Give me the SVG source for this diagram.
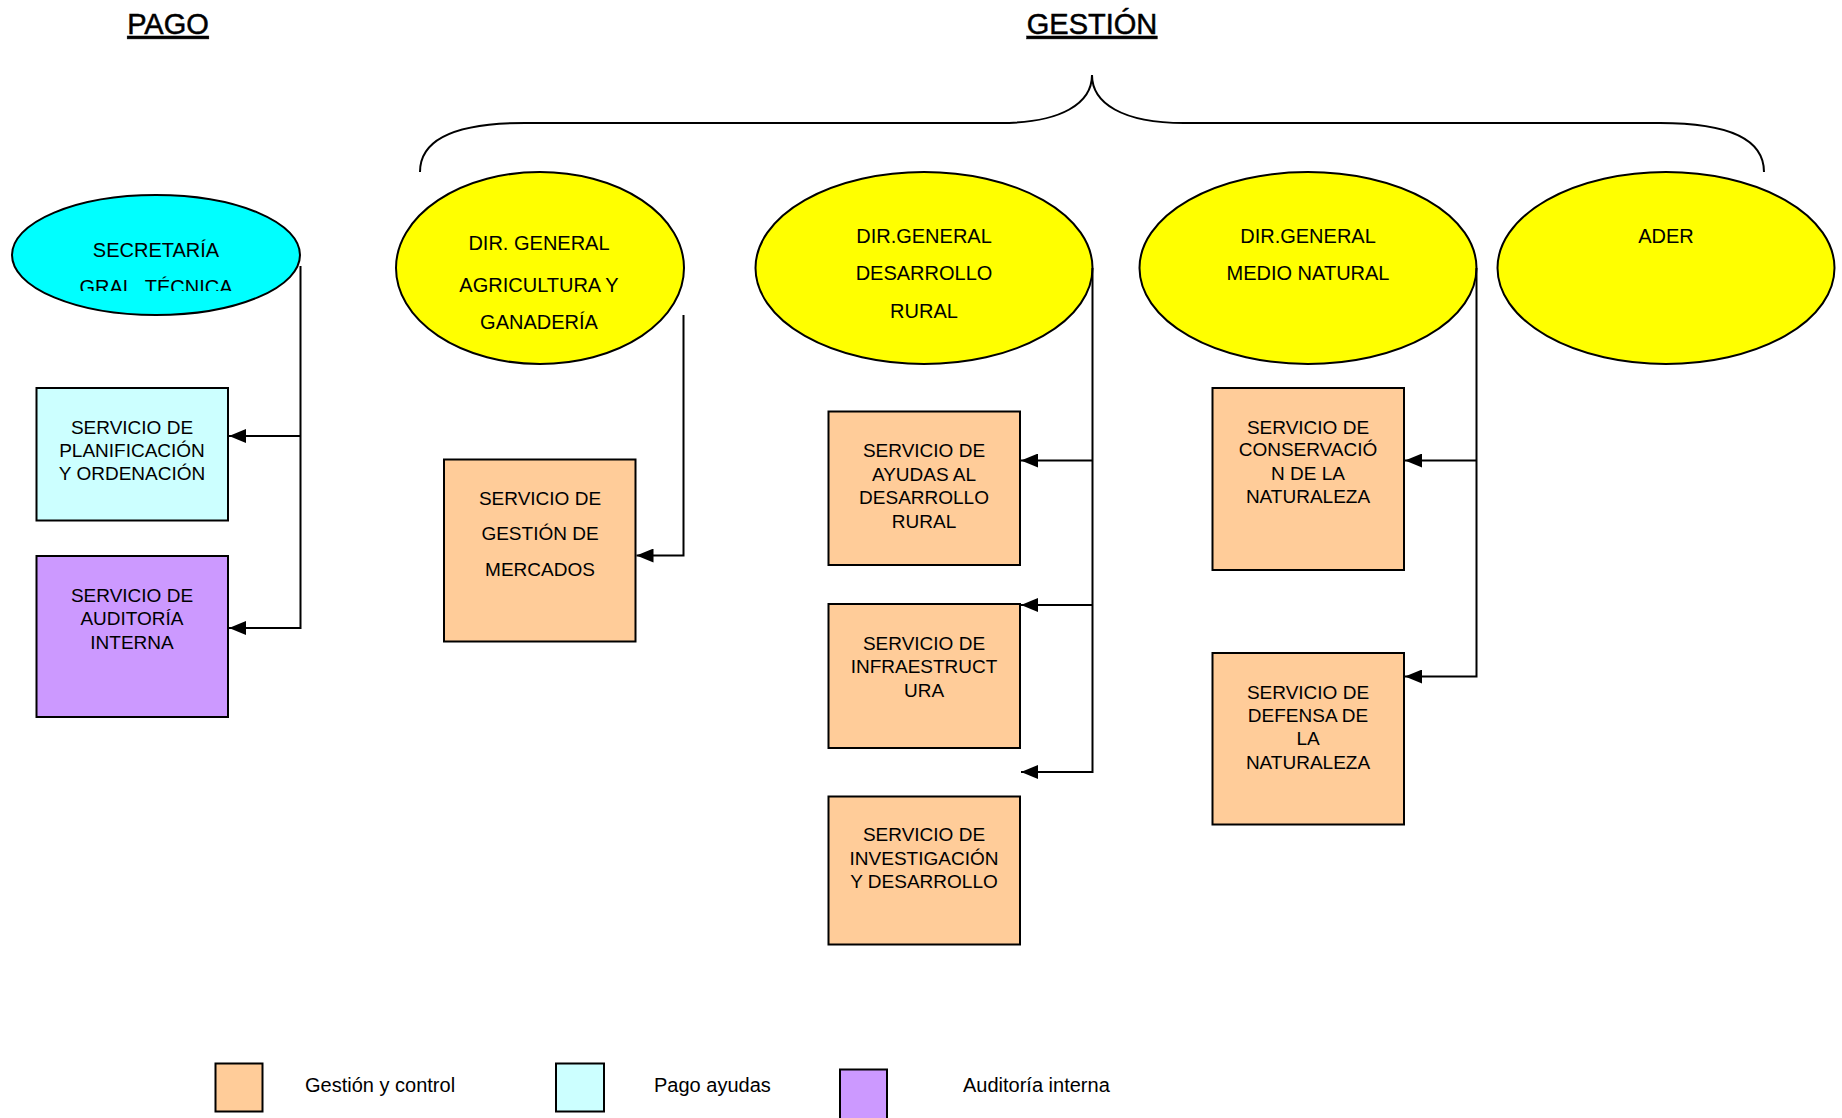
<svg xmlns="http://www.w3.org/2000/svg" width="1842" height="1118" viewBox="0 0 1842 1118">
<style>
text{font-family:"Liberation Sans",Arial,sans-serif;fill:#000}
.title{font-size:29px;text-decoration:underline;stroke:#000;stroke-width:0.5}
.et{font-size:20px;text-anchor:middle}
.bt{font-size:19px;text-anchor:middle}
.lt{font-size:20px}
.ell{stroke:#000;stroke-width:2}
.box{stroke:#000;stroke-width:2}
.conn{fill:none;stroke:#000;stroke-width:2}
.y{fill:#FFFF00}
.c{fill:#00FFFF}
.o{fill:#FFCC99}
.lc{fill:#CCFFFF}
.p{fill:#CC99FF}
</style>
<defs>
<marker id="arr" markerUnits="userSpaceOnUse" markerWidth="17" markerHeight="14" viewBox="0 0 17 14" refX="17" refY="7" orient="auto">
<path d="M0,0 L17,7 L0,14 z" fill="#000"/>
</marker>
<clipPath id="secClip"><rect x="0" y="0" width="400" height="291"/></clipPath>
</defs>
<rect width="1842" height="1118" fill="#fff"/>
<g id="titles">
<text class="title" x="168" y="34" text-anchor="middle">PAGO</text>
<text class="title" x="1092" y="34" text-anchor="middle">GESTIÓN</text>
</g>
<g id="brace">
<path class="conn" d="M420,172 C420,140 455,123 525,123 L1000,123 C1062,123 1092,103 1092,75 C1092,103 1122,123 1184,123 L1660,123 C1730,123 1764,140 1764,172"/>
</g>
<g id="secretaria">
<ellipse class="ell c" cx="156" cy="255" rx="144" ry="60"/>
<text class="et" x="156" y="257">SECRETARÍA</text>
<text class="et" x="156" y="294" clip-path="url(#secClip)">GRAL. TÉCNICA</text>
</g>
<g id="dg-agricultura">
<ellipse class="ell y" cx="540" cy="268" rx="144" ry="96"/>
<text class="et" x="539" y="250">DIR. GENERAL</text>
<text class="et" x="539" y="292">AGRICULTURA Y</text>
<text class="et" x="539" y="329">GANADERÍA</text>
</g>
<g id="dg-desarrollo">
<ellipse class="ell y" cx="924" cy="268" rx="168.5" ry="96"/>
<text class="et" x="924" y="243">DIR.GENERAL</text>
<text class="et" x="924" y="280">DESARROLLO</text>
<text class="et" x="924" y="318">RURAL</text>
</g>
<g id="dg-medio">
<ellipse class="ell y" cx="1308" cy="268" rx="168.5" ry="96"/>
<text class="et" x="1308" y="243">DIR.GENERAL</text>
<text class="et" x="1308" y="280">MEDIO NATURAL</text>
</g>
<g id="ader">
<ellipse class="ell y" cx="1666" cy="268" rx="168.5" ry="96"/>
<text class="et" x="1666" y="243">ADER</text>
</g>
<g id="s-planificacion">
<rect class="box lc" x="36.5" y="388" width="191.5" height="132.5"/>
<text class="bt" x="132" y="433.5">SERVICIO DE</text>
<text class="bt" x="132" y="457">PLANIFICACIÓN</text>
<text class="bt" x="132" y="480">Y ORDENACIÓN</text>
</g>
<g id="s-auditoria">
<rect class="box p" x="36.5" y="556" width="191.5" height="161"/>
<text class="bt" x="132" y="601.5">SERVICIO DE</text>
<text class="bt" x="132" y="625">AUDITORÍA</text>
<text class="bt" x="132" y="648.5">INTERNA</text>
</g>
<g id="s-mercados">
<rect class="box o" x="444" y="459.5" width="191.5" height="182"/>
<text class="bt" x="540" y="505">SERVICIO DE</text>
<text class="bt" x="540" y="540">GESTIÓN DE</text>
<text class="bt" x="540" y="575.5">MERCADOS</text>
</g>
<g id="s-ayudas">
<rect class="box o" x="828.5" y="411.5" width="191.5" height="153.5"/>
<text class="bt" x="924" y="457">SERVICIO DE</text>
<text class="bt" x="924" y="480.5">AYUDAS AL</text>
<text class="bt" x="924" y="504">DESARROLLO</text>
<text class="bt" x="924" y="527.5">RURAL</text>
</g>
<g id="s-infraestructura">
<rect class="box o" x="828.5" y="604" width="191.5" height="144"/>
<text class="bt" x="924" y="649.5">SERVICIO DE</text>
<text class="bt" x="924" y="673">INFRAESTRUCT</text>
<text class="bt" x="924" y="696.5">URA</text>
</g>
<g id="s-investigacion">
<rect class="box o" x="828.5" y="796.5" width="191.5" height="148"/>
<text class="bt" x="924" y="841">SERVICIO DE</text>
<text class="bt" x="924" y="864.5">INVESTIGACIÓN</text>
<text class="bt" x="924" y="888">Y DESARROLLO</text>
</g>
<g id="s-conservacion">
<rect class="box o" x="1212.5" y="388" width="191.5" height="182"/>
<text class="bt" x="1308" y="433.5">SERVICIO DE</text>
<text class="bt" x="1308" y="456">CONSERVACIÓ</text>
<text class="bt" x="1308" y="479.5">N DE LA</text>
<text class="bt" x="1308" y="503">NATURALEZA</text>
</g>
<g id="s-defensa">
<rect class="box o" x="1212.5" y="653" width="191.5" height="171.5"/>
<text class="bt" x="1308" y="699">SERVICIO DE</text>
<text class="bt" x="1308" y="721.5">DEFENSA DE</text>
<text class="bt" x="1308" y="745">LA</text>
<text class="bt" x="1308" y="768.5">NATURALEZA</text>
</g>
<g id="connectors">
<path class="conn" d="M300.5,266 V628 H229" marker-end="url(#arr)"/>
<path class="conn" d="M300.5,436 H229" marker-end="url(#arr)"/>
<path class="conn" d="M683.5,315 V555.5 H636.5" marker-end="url(#arr)"/>
<path class="conn" d="M1092.5,268 V772 H1021" marker-end="url(#arr)"/>
<path class="conn" d="M1092.5,460.5 H1021" marker-end="url(#arr)"/>
<path class="conn" d="M1092.5,605 H1021" marker-end="url(#arr)"/>
<path class="conn" d="M1476.5,268 V676.5 H1405" marker-end="url(#arr)"/>
<path class="conn" d="M1476.5,460.5 H1405" marker-end="url(#arr)"/>
</g>
<g id="legend">
<rect class="box o" x="215.5" y="1063.5" width="47" height="48"/>
<text class="lt" x="305" y="1092">Gestión y control</text>
<rect class="box lc" x="556" y="1063.5" width="48" height="48"/>
<text class="lt" x="654" y="1092">Pago ayudas</text>
<rect class="box p" x="840" y="1069.5" width="47" height="52"/>
<text class="lt" x="963" y="1092">Auditoría interna</text>
</g>
</svg>
